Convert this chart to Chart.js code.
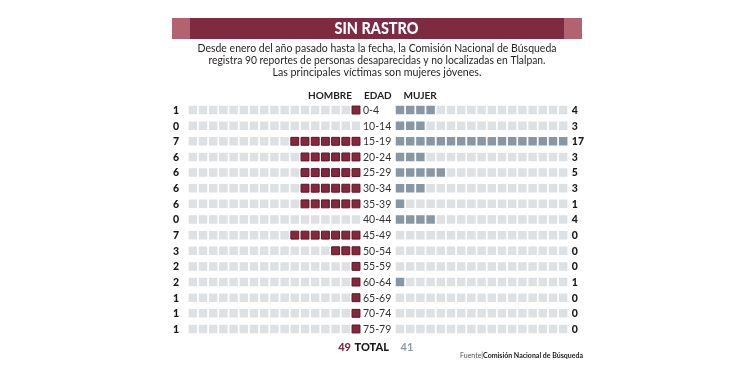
<!DOCTYPE html>
<html>
<head>
<meta charset="utf-8">
<script src="https://cdn.jsdelivr.net/npm/chart.js@4/dist/chart.umd.min.js"></script>
<style>
	body { margin: 0; background: #fff; }
	#wrap { width: 750px; height: 375px; }
</style>
</head>
<body>
<div id="wrap"><canvas id="chart" width="750" height="375"></canvas></div>
<script>
const titulo = "SIN RASTRO";
const subtitulo = [
	"Desde enero del año pasado hasta la fecha, la Comisión Nacional de Búsqueda",
	"registra 90 reportes de personas desaparecidas y no localizadas en Tlalpan.",
	"Las principales víctimas son mujeres jóvenes.",
];
const edades = ["0-4", "10-14", "15-19", "20-24", "25-29", "30-34", "35-39", "40-44", "45-49", "50-54", "55-59", "60-64", "65-69", "70-74", "75-79"];
// the printed counts for men
const hombres = [1, 0, 7, 6, 6, 6, 6, 0, 7, 3, 2, 2, 1, 1, 1];
// squares actually filled for men in the graphic (55-59 and 60-64 show one)
const hombresCuadros = [1, 0, 7, 6, 6, 6, 6, 0, 7, 3, 1, 1, 1, 1, 1];
const mujeres = [4, 3, 17, 3, 5, 3, 1, 4, 0, 0, 0, 1, 0, 0, 0];
const totalHombres = 49;
const totalMujeres = 41;
const maxCuadros = 17;
const fuente = "Comisión Nacional de Búsqueda";

window.onload = () => {
	const GAP = 2.157; // distance from centre to first square, in cell units

	const maroonPts = [];
	const bluePts = [];
	const greyPts = [];
	edades.forEach((e, row) => {
		for (let k = 0; k < maxCuadros; k++) {
			const left = { x: -(GAP + k), y: row };
			(k < hombresCuadros[row] ? maroonPts : greyPts).push(left);
			const right = { x: GAP + k, y: row };
			(k < mujeres[row] ? bluePts : greyPts).push(right);
		}
	});

	const textos = {
		id: "textos",
		afterDraw(chart) {
			const ctx = chart.ctx;
			const { x, y } = chart.scales;
			ctx.save();

			// header bar
			ctx.fillStyle = "#7e2a40";
			ctx.fillRect(172, 18, 410, 21);
			ctx.fillStyle = "#b2636f";
			ctx.fillRect(172, 18, 18, 21);
			ctx.fillRect(564, 18, 18, 21);
			ctx.fillStyle = "#fff";
			ctx.font = "900 16px Lato";
			ctx.textAlign = "center";
			ctx.textBaseline = "middle";
			ctx.fillText(titulo, 376.5, 29, 84);

			// subtitle
			ctx.fillStyle = "#231f20";
			ctx.font = "12px Lato";
			const widths = [359, 337, 209];
			const ys = [48, 60.5, 72];
			subtitulo.forEach((t, i) => ctx.fillText(t, 377, ys[i], widths[i]));

			// column headers
			ctx.font = "bold 10px Lato";
			ctx.textAlign = "left";
			ctx.fillStyle = "#231f20";
			ctx.fillText("HOMBRE", 308, 96);
			ctx.fillText("EDAD", 364, 96);
			ctx.fillText("MUJER", 403.5, 96);

			// rows
			edades.forEach((e, row) => {
				const py = y.getPixelForValue(row) + 0.5;
				ctx.font = "10.5px Lato";
				ctx.fillStyle = "#333";
				ctx.textAlign = "left";
				ctx.fillText(e, x.getPixelForValue(-1.47), py);
				ctx.font = "900 10.5px Lato";
				ctx.fillStyle = "#1a1a1a";
				ctx.fillText(String(hombres[row]), x.getPixelForValue(-20.1), py);
				ctx.fillText(String(mujeres[row]), x.getPixelForValue(19.0), py);
			});

			// totals
			const ty = y.getPixelForValue(edades.length) + 3;
			ctx.font = "900 11px Lato";
			ctx.textAlign = "right";
			ctx.fillStyle = "#7e2a40";
			ctx.fillText(String(totalHombres), 351, ty);
			ctx.textAlign = "left";
			ctx.fillStyle = "#1a1a1a";
			ctx.fillText("TOTAL", 354.5, ty, 37);
			ctx.font = "bold 11px Lato";
			ctx.fillStyle = "#8a9ba8";
			ctx.fillText(String(totalMujeres), 400.5, ty);

			// source
			ctx.font = "bold 7px Lato";
			ctx.textAlign = "right";
			ctx.fillStyle = "#1a1a1a";
			ctx.fillText(fuente, 583, 356);
			const w = ctx.measureText(fuente).width;
			ctx.font = "7px Lato";
			ctx.fillStyle = "#555";
			ctx.fillText("Fuente|", 583 - w, 356);

			ctx.restore();
		},
	};

	new Chart(document.getElementById("chart").getContext("2d"), {
		type: "scatter",
		data: {
			datasets: [
				{
					label: "Hombre",
					data: maroonPts,
					pointStyle: "rect",
					pointRadius: 5.6,
					backgroundColor: "#86283d",
					borderColor: "#5f1527",
					borderWidth: 1,
				},
				{
					label: "Mujer",
					data: bluePts,
					pointStyle: "rect",
					pointRadius: 6,
					backgroundColor: "#8797a4",
					borderWidth: 0,
				},
				{
					label: "Vacío",
					data: greyPts,
					pointStyle: "rect",
					pointRadius: 6,
					backgroundColor: "#dde1e4",
					borderWidth: 0,
				},
			],
		},
		options: {
			responsive: false,
			animation: false,
			events: [],
			layout: { padding: { left: 174, right: 168, top: 94.4, bottom: 30.4 } },
			plugins: { legend: { display: false }, tooltip: { enabled: false } },
			scales: {
				x: { type: "linear", min: -20, max: 20, display: false },
				y: { type: "linear", min: -1, max: 15, reverse: true, display: false },
			},
		},
		plugins: [textos],
	});
};
</script>
</body>
</html>
